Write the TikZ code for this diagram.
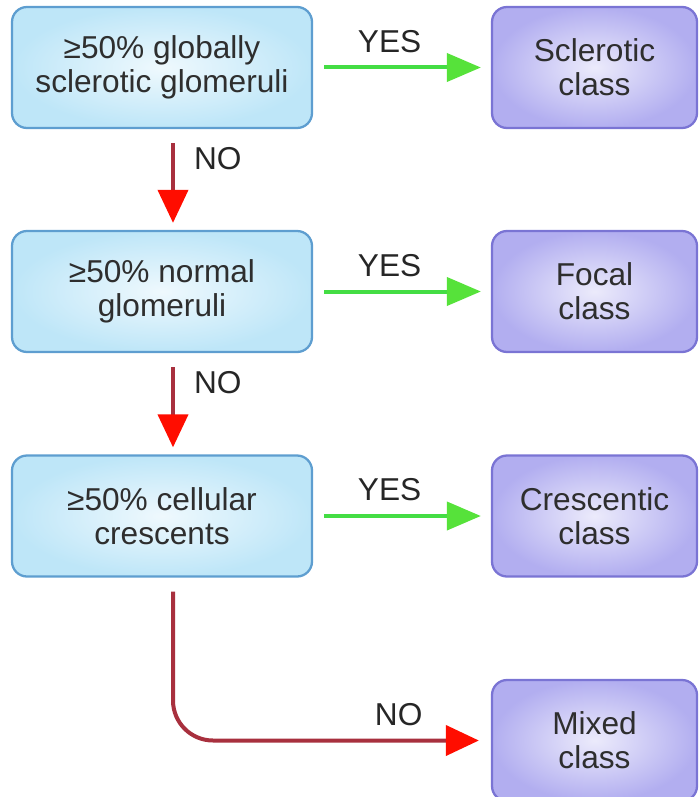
\documentclass[tikz,border=0pt]{standalone}
\usepackage{fontspec}
\setmainfont{Liberation Sans}
\usetikzlibrary{arrows.meta}

\definecolor{testline}{HTML}{5E9ED0}
\definecolor{testfill}{HTML}{BEE6F8}
\definecolor{classline}{HTML}{7A74D4}
\definecolor{classfill}{HTML}{B2AEF0}
\definecolor{yesgreen}{HTML}{44DD44}
\definecolor{nored}{HTML}{A8303E}
\definecolor{txtgray}{HTML}{2E2E2E}

\begin{document}
\begin{tikzpicture}[
  test/.style={draw=testline, line width=1.3pt, rounded corners=0.3cm,
    inner color=testfill!25!white, outer color=testfill,
    minimum width=6cm, minimum height=2.42cm, align=center},
  class/.style={draw=classline, line width=1.3pt, rounded corners=0.3cm,
    inner color=classfill!25!white, outer color=classfill,
    minimum width=4.1cm, minimum height=2.42cm, align=center},
  yes/.style={draw=yesgreen, line width=0.08cm,
    -{Triangle[length=0.68cm, width=0.56cm, color=yesgreen!85!lime]},
    shorten <=0.22cm, shorten >=0.2cm},
  no/.style={draw=nored, line width=0.08cm,
    -{Triangle[length=0.66cm, width=0.6cm, color=red!90!orange]}},
  lbl/.style={inner sep=0pt, text=black!85},
  every node/.style={font=\fontsize{18}{19.5}\selectfont, text=txtgray},
]

\useasboundingbox (0,0) rectangle (13.96,-15.94);

% tests
\node [test] (glob) at (3.24,-1.35) {≥50\% globally\\sclerotic glomeruli};
\node [test] (norm) at (3.24,-5.83) {≥50\% normal\\glomeruli};
\node [test] (cell) at (3.24,-10.32) {≥50\% cellular\\crescents};

% classes
\node [class] (scl) at (11.89,-1.35) {Sclerotic\\class};
\node [class] (foc) at (11.89,-5.83) {Focal\\class};
\node [class] (cre) at (11.89,-10.32) {Crescentic\\class};
\node [class] (mix) at (11.89,-14.81) {Mixed\\class};

\draw [yes] (glob) -- node [lbl, pos=0.43, above=0.26cm] {YES} (scl);
\draw [yes] (norm) -- node [lbl, pos=0.43, above=0.26cm] {YES} (foc);
\draw [yes] (cell) -- node [lbl, pos=0.43, above=0.26cm] {YES} (cre);

\draw [no, shorten <=0.28cm, shorten >=0.14cm] ([xshift=0.22cm]glob.south) -- node [lbl, pos=0.29, right=0.38cm] {NO} ([xshift=0.22cm]norm.north);
\draw [no, shorten <=0.28cm, shorten >=0.14cm] ([xshift=0.22cm]norm.south) -- node [lbl, pos=0.29, right=0.38cm] {NO} ([xshift=0.22cm]cell.north);

\coordinate (turn) at ([xshift=0.22cm]cell.south |- mix.west);
\draw [no, rounded corners=0.8cm, shorten <=0.28cm, shorten >=0.24cm] ([xshift=0.22cm]cell.south) -- (turn) -- node [lbl, pos=0.71, above=0.26cm] {NO} (mix.west);

\end{tikzpicture}
\end{document}
